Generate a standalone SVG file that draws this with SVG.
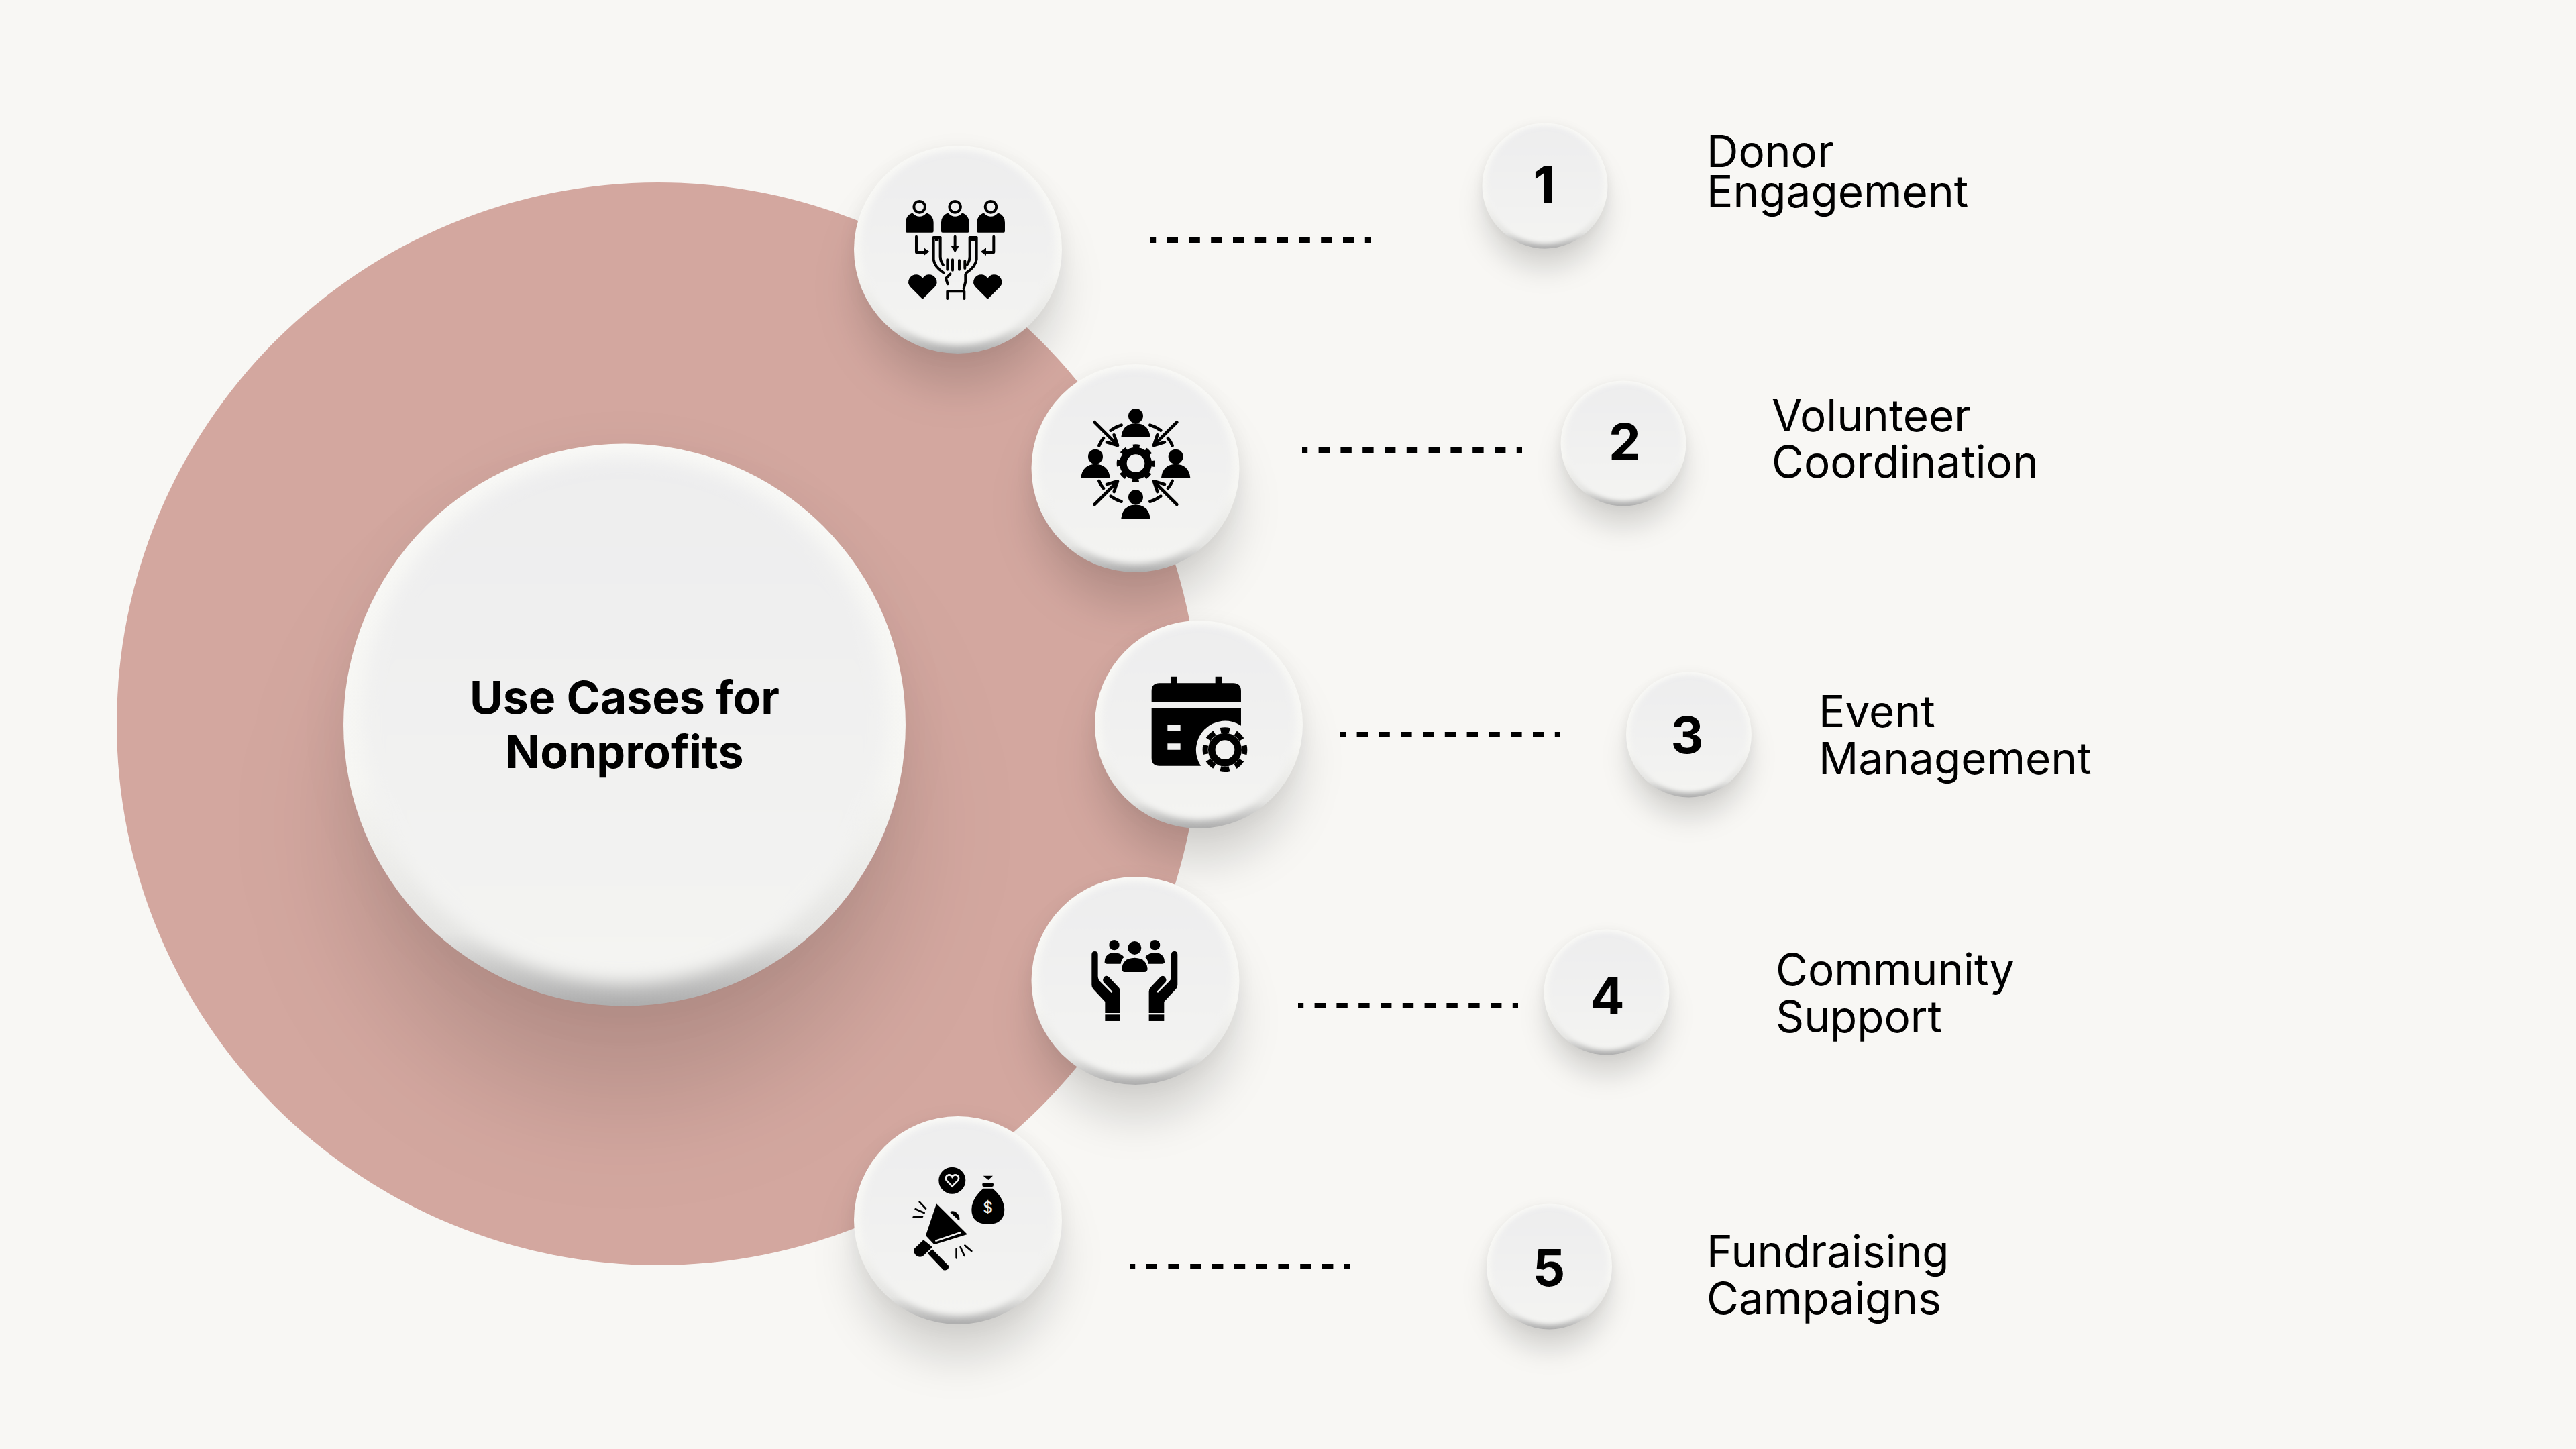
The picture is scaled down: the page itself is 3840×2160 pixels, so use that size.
<svg xmlns="http://www.w3.org/2000/svg" xmlns:xlink="http://www.w3.org/1999/xlink" width="3840" height="2160" viewBox="0 0 3840 2160">
<style>
.lb{font-family:Inter,"Liberation Sans",sans-serif;font-size:65.7px;fill:#000}
.nm{font-family:Inter,"Liberation Sans",sans-serif;font-size:76px;font-weight:700;fill:#000;text-anchor:middle}
.ct{font-family:Inter,"Liberation Sans",sans-serif;font-size:68px;font-weight:700;fill:#000;text-anchor:middle}
.dl{stroke:#000;stroke-width:8;stroke-dasharray:16.4 16.4;stroke-dashoffset:8.2;fill:none}
.s12{fill:none;stroke:#000;stroke-width:12;stroke-linecap:round;stroke-linejoin:round}
.s14{fill:none;stroke:#000;stroke-width:14;stroke-linecap:round;stroke-linejoin:round}
.s8{fill:none;stroke:#000;stroke-width:8;stroke-linecap:round}
</style>
<defs>
<linearGradient id="rim" x1="0" y1="0" x2="0" y2="1"><stop offset="0" stop-color="#f9f9f6"/><stop offset=".6" stop-color="#f6f6f3"/><stop offset=".87" stop-color="#e4e4e2"/><stop offset="1" stop-color="#adadad"/></linearGradient>
<linearGradient id="face" x1="0" y1="0" x2="0" y2="1"><stop offset="0" stop-color="#ededee"/><stop offset="1" stop-color="#f4f4f2"/></linearGradient>
<filter id="fb" x="-20%" y="-20%" width="140%" height="140%"><feGaussianBlur stdDeviation="5"/></filter>
<filter id="sh" x="-50%" y="-50%" width="200%" height="200%"><feGaussianBlur stdDeviation="32"/></filter>
<filter id="hl" x="-30%" y="-30%" width="160%" height="160%"><feGaussianBlur stdDeviation="10"/></filter>
<clipPath id="dc"><circle r="155"/></clipPath>
<g id="disc">
<circle r="150" cy="55" fill="#000" fill-opacity=".145" filter="url(#sh)"/>
<circle r="160" cy="2" fill="#000" fill-opacity=".035" filter="url(#hl)"/>
<circle r="155" fill="url(#rim)"/>
<g clip-path="url(#dc)"><circle r="145" cy="-3" fill="url(#face)" filter="url(#fb)"/></g>
</g>
<g id="p1"><circle cx="392" cy="325" r="25" fill="none" stroke="#000" stroke-width="12"/><path d="M330 434V395Q330 365 360 352Q392 385 425 352Q455 365 455 395V434Q455 440 449 440H336Q330 440 330 434Z"/></g>
<path id="h1" d="M406 738L352 684Q335 665 347 645Q358 627 380 628Q397 630 406 645Q415 630 432 628Q454 627 465 645Q477 665 460 684Z"/>
<g id="m1"><path d="M378 458V528H415M455 462H485V548Q486 570 498 585M455 462V560Q458 592 500 620" class="s12"/><path d="M412 508L436 525L412 543ZM462 462H478V478H462Z"/></g>
<path id="b2" d="M484 365Q490 305 549 303Q608 305 614 365Z"/>
<g id="a2"><path d="M365 298L455 388M420 388L468 402L452 355M437 335Q460 318 485 311M385 403Q392 385 405 370" class="s14"/></g>
<g id="ha"><path d="M352 398Q352 384 366 384Q380 384 380 398V495Q380 510 390 520L440 570L445 565L405 522Q398 510 410 497Q420 490 430 500L475 548Q480 555 480 565V660H412V610L358 552Q352 545 352 535Z"/><rect x="412" y="667" width="68" height="29"/><path d="M410 430Q412 392 453 390Q480 390 497 410Q485 420 482 440H420Q408 440 410 430Z"/><circle cx="453" cy="356" r="23"/></g>
</defs>
<rect id="background" width="3840" height="2160" fill="#f8f7f4"/>
<circle id="ring" cx="981" cy="1079" r="807" fill="#d3a79f"/>
<g id="connectors">
<path class="dl" d="M1715 358H2043"/>
<path class="dl" d="M1941 671H2269"/>
<path class="dl" d="M1998 1095H2326"/>
<path class="dl" d="M1935 1499H2263"/>
<path class="dl" d="M1684 1888H2012"/>
</g>
<g id="center"><use href="#disc" transform="translate(931 1080.5) scale(2.703)"/><text class="ct" x="931" y="1064">Use Cases for</text><text class="ct" x="931" y="1145">Nonprofits</text></g>
<g id="icon1"><use href="#disc" x="1428" y="372"/>
<g transform="translate(1240 200) scale(.3333)"><use href="#p1"/><use href="#p1" x="159"/><use href="#p1" x="319"/><use href="#h1"/><use href="#h1" x="291"/><use href="#m1"/><use href="#m1" transform="matrix(-1 0 0 1 1102 0)"/><path d="M551 458V500" class="s12"/><path d="M533 500H569L551 530Z"/><path d="M517 562V605M540 562V608M570 565V605M595 568V600M530 625L510 645L518 670M598 628V660L590 690M517 735V703H592V735" class="s12"/></g></g>
<g id="icon2"><use href="#disc" x="1692.5" y="698"/>
<g transform="translate(1510 530) scale(.3333)"><circle cx="549" cy="270" r="33"/><use href="#b2"/><circle cx="369" cy="452" r="33"/><use href="#b2" x="-180" y="182"/><circle cx="728" cy="452" r="33"/><use href="#b2" x="179" y="182"/><circle cx="549" cy="634" r="33"/><use href="#b2" y="364"/>
<use href="#a2"/><use href="#a2" transform="matrix(-1 0 0 1 1098 0)"/><use href="#a2" transform="matrix(1 0 0 -1 0 964)"/><use href="#a2" transform="matrix(-1 0 0 -1 1098 964)"/>
<circle cx="549" cy="482" r="56" fill="none" stroke="#000" stroke-width="32"/><circle cx="549" cy="482" r="77" fill="none" stroke="#000" stroke-width="16" stroke-dasharray="30 30.5" stroke-dashoffset="15"/></g></g>
<g id="icon3"><use href="#disc" x="1787" y="1080"/>
<g transform="translate(1610 910) scale(.3333)"><path d="M320 410V360Q320 325 355 325H405V296H435V325H605V296H634V325H685Q720 325 720 360V410Z"/><path fill-rule="evenodd" d="M320 438H720V515A130 130 0 0 0 540 695H355Q320 695 320 660ZM391 510V538H449V510ZM391 595V623H449V595Z"/><circle cx="648" cy="623" r="59" fill="none" stroke="#000" stroke-width="32"/><circle cx="648" cy="623" r="88" fill="none" stroke="#000" stroke-width="24" stroke-dasharray="40 29.1" stroke-dashoffset="20"/></g></g>
<g id="icon4"><use href="#disc" x="1692.5" y="1462"/>
<g transform="translate(1510 1290) scale(.3333)"><use href="#ha"/><use href="#ha" transform="matrix(-1 0 0 1 1088 0)"/><circle cx="544" cy="369" r="30"/><path d="M487 462Q490 415 544 413Q598 415 602 462Q602 477 588 477H500Q487 477 487 462Z"/></g></g>
<g id="icon5"><use href="#disc" x="1428" y="1819"/>
<g transform="translate(1240 1660) scale(.3333)"><circle cx="538" cy="299" r="60"/><path d="M538 325L512 298Q505 280 520 275Q532 272 538 283Q545 272 557 275Q572 280 565 298Z" fill="none" stroke="#f0f0f0" stroke-width="8"/><path d="M677 278H720L700 297ZM680 309H716Q723 309 723 316V320Q723 327 716 327H680Q673 327 673 320V316Q673 309 680 309ZM677 335H720Q772 380 772 430Q770 495 700 495Q625 495 625 430Q625 380 677 335Z"/><text x="698" y="443" font-family="Inter,'Liberation Sans',sans-serif" font-size="68" font-weight="500" fill="#f0f0f0" text-anchor="middle">$</text><path d="M468 403L606 540L458 586L420 545ZM528 440Q545 430 560 445Q575 460 570 480ZM410 565L368 605Q365 625 378 635Q395 647 410 635L450 597ZM450 607L522 680Q525 695 510 700Q500 703 495 695L428 625Z"/><path d="M463 570L578 531" stroke="#f0f0f0" stroke-width="8"/><path d="M392 395L420 425M374 427L413 444M365 463L405 461M625 615L595 590M593 636L575 597M557 646L557 605" class="s8"/></g></g>
<g id="num1"><use href="#disc" transform="translate(2303 277) scale(.603)"/><text class="nm" x="2302" y="303">1</text></g>
<g id="num2"><use href="#disc" transform="translate(2420 661) scale(.603)"/><text class="nm" x="2422" y="686">2</text></g>
<g id="num3"><use href="#disc" transform="translate(2517.5 1095) scale(.603)"/><text class="nm" x="2515" y="1123">3</text></g>
<g id="num4"><use href="#disc" transform="translate(2395 1479) scale(.603)"/><text class="nm" x="2396" y="1512">4</text></g>
<g id="num5"><use href="#disc" transform="translate(2309.5 1888) scale(.603)"/><text class="nm" x="2309" y="1917">5</text></g>
<g id="label1"><text class="lb" x="2544" y="249">Donor</text><text class="lb" x="2544" y="309">Engagement</text></g>
<g id="label2"><text class="lb" x="2641" y="643">Volunteer</text><text class="lb" x="2641" y="712">Coordination</text></g>
<g id="label3"><text class="lb" x="2711" y="1084">Event</text><text class="lb" x="2711" y="1154">Management</text></g>
<g id="label4"><text class="lb" x="2647" y="1469">Community</text><text class="lb" x="2647" y="1539">Support</text></g>
<g id="label5"><text class="lb" x="2544" y="1889">Fundraising</text><text class="lb" x="2544" y="1959">Campaigns</text></g>
</svg>
